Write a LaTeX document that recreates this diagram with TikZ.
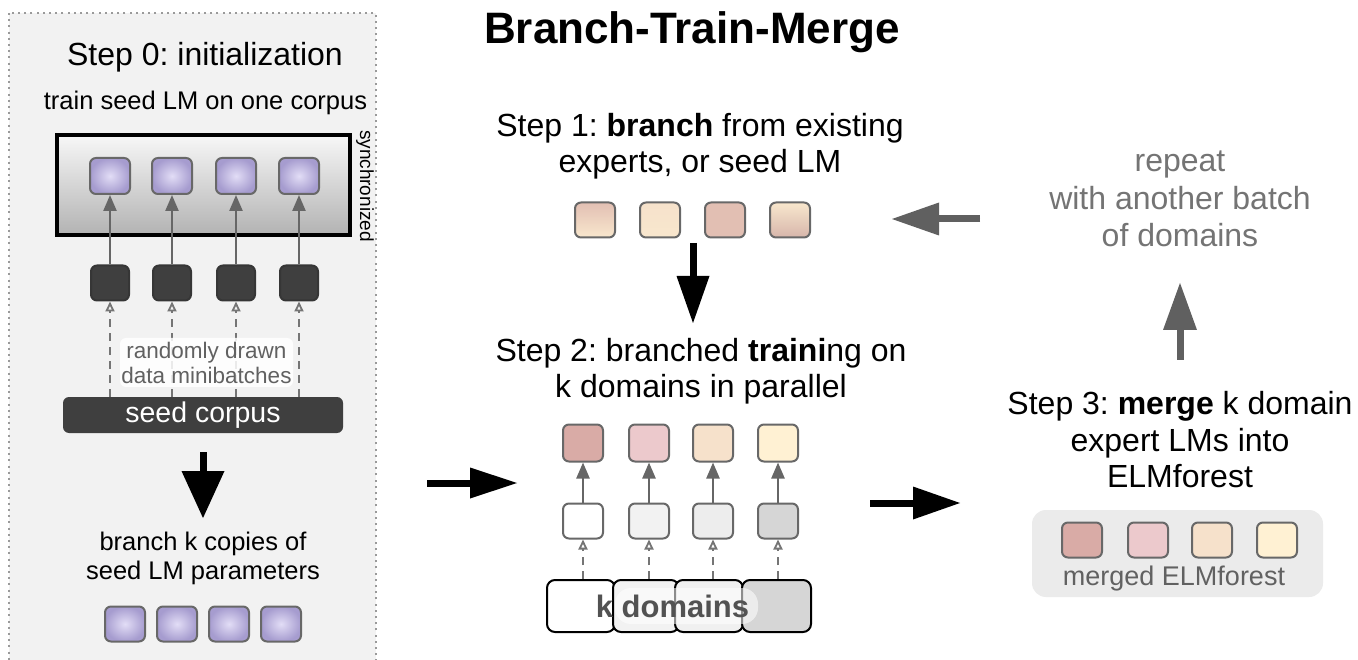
\documentclass[tikz,border=0pt]{standalone}
\usepackage{fontspec}
\setmainfont{Liberation Sans}
\usetikzlibrary{arrows.meta,calc}

\newcommand\fsz[2]{\fontsize{#1}{#2}\selectfont}

\definecolor{panel}{HTML}{F2F2F2}
\definecolor{dotgray}{HTML}{9A9A9A}
\definecolor{sqline}{HTML}{686868}
\definecolor{darkbox}{HTML}{3F3F3F}
\definecolor{arrgray}{HTML}{666666}
\definecolor{lavin}{HTML}{E2DDF6}
\definecolor{lavout}{HTML}{A69CCF}
\definecolor{rose}{HTML}{D9ABA6}
\definecolor{pinkish}{HTML}{ECC9CC}
\definecolor{peach}{HTML}{F6E1CB}
\definecolor{cream}{HTML}{FFF1D3}
\definecolor{tanA}{HTML}{E2BFB3}
\definecolor{tanB}{HTML}{F8E7CD}
\definecolor{repeatgray}{HTML}{747474}
\definecolor{bigarrgray}{HTML}{606060}

\tikzset{
  sq/.style={draw=sqline, line width=2pt, rounded corners=6pt,
             minimum width=40pt, minimum height=36pt, inner sep=0pt},
  lm/.style={sq, inner color=lavin, outer color=lavout},
  enc/.style={sq, fill=darkbox, draw=darkbox!85!black,
              minimum width=38pt, minimum height=35pt},
  upar/.style={draw=arrgray, line width=2.4pt,
               -{Triangle[length=16pt,width=13pt]}},
  dasharr/.style={draw=arrgray!90, line width=1.8pt, dash pattern=on 8pt off 6pt,
                  -{Triangle[open,length=10pt,width=9pt]}},
  bigarr/.style={line width=7pt,
                 -{Triangle[length=47pt,width=#1,line width=0pt]}},
  bigarr/.default=33pt,
  dombox/.style={draw=black, line width=2pt, rounded corners=8pt,
                 minimum height=52pt, inner sep=0pt},
  body/.style={font=\fsz{32}{36}, align=center},
}

\begin{document}
\frenchspacing
\begin{tikzpicture}[x=1pt,y=-1pt]
\useasboundingbox[fill=white] (0,0) rectangle (1358,660);

% ---------- Step 0 panel ----------
\path[fill=panel, draw=dotgray, line width=2pt, dash pattern=on 2pt off 4.2pt]
  (9,13) rectangle (376,690);

\node[font=\fsz{32}{36}, anchor=base] (s0) at (205,66) {Step 0: initialization};
\node[font=\fsz{25.5}{29}, anchor=base] (s0b) at (205.5,110) {train seed LM on one corpus};

\node[draw=black, line width=4pt, minimum width=293pt, minimum height=100pt,
      top color=white!97!black, bottom color=black!30, inner sep=0pt]
  (sync) at (203.5,185) {};
\node[rotate=-90, font=\fsz{19}{22}] (synclab) at (365,186) {synchronized};

\foreach \i/\x in {1/110,2/172,3/236,4/299}{
  \node[lm] (u\i) at (\x,176) {};
  \node[enc] (e\i) at (\x,283) {};
}
\node[fill=darkbox, rounded corners=6pt, minimum width=280pt, minimum height=36pt,
      inner sep=0pt, text=white, font=\fsz{28.5}{32}] (corpus) at (203,415) {seed corpus};

\foreach \i in {1,...,4}{
  \draw[upar] (e\i) -- (u\i);
  \draw[dasharr] (e\i |- corpus.north) -- (e\i.south);
}
\node[fill=white, fill opacity=0.85, text opacity=1, rounded corners=6pt,
      minimum width=173pt, minimum height=49pt, inner sep=0pt,
      text=black!62, font=\fsz{22.5}{25}, align=center]
  (mb) at (206.5,362.5) {randomly drawn\\data minibatches};

\coordinate (a0s) at (203,452);
\coordinate (a0e) at (203,518);
\draw[bigarr=43pt] (a0s) -- (a0e);

\node[font=\fsz{25.5}{29}, align=center] (bk) at (203,558)
  {branch k copies of\\seed LM parameters};
\foreach \i/\x in {1/125,2/177,3/229,4/281}
  \node[lm, minimum height=35pt] (c\i) at (\x,624) {};

% ---------- title ----------
\node[font=\fsz{44}{50}\bfseries, anchor=base] (title) at (692,44) {Branch-Train-Merge};

% ---------- Step 1 ----------
\node[body] (s1) at (700,146) {Step 1: \textbf{branch} from existing\\experts, or seed LM};
\node[sq, minimum height=35pt, top color=tanA, bottom color=tanB] (t1) at (595,220) {};
\node[sq, minimum height=35pt, top color=peach!90!tanB, bottom color=tanB] (t2) at (660,220) {};
\node[sq, minimum height=35pt, top color=tanA, middle color=tanB!40!white, bottom color=tanA] (t3) at (725,220) {};
\node[sq, minimum height=35pt, top color=tanB, bottom color=tanA!95!black] (t4) at (790,220) {};

\coordinate (a1s) at (693,243);
\coordinate (a1e) at (693,323);
\draw[bigarr=33pt] (a1s) -- (a1e);

% ---------- Step 2 ----------
\node[body] (s2) at (701,371) {Step 2: branched \textbf{traini}ng on\\k domains in parallel};

\coordinate (a2s) at (427,483);
\coordinate (a2e) at (517,483);
\draw[bigarr=31pt] (a2s) -- (a2e);

\foreach \i/\x/\c/\m in {1/583/rose/white, 2/649/pinkish/black!5, 3/713/peach/black!7, 4/778/cream/black!16}{
  \node[sq, minimum height=37pt, fill=\c] (r\i) at (\x,443) {};
  \node[sq, minimum height=35pt, fill=\m] (m\i) at (\x,521) {};
  \draw[upar] (m\i) -- (r\i);
}
\node[dombox, fill=white,       minimum width=68pt] (d1) at (581,606) {};
\node[dombox, fill=black!5,     minimum width=66pt] (d2) at (646,606) {};
\node[dombox, fill=black!6,     minimum width=68pt] (d3) at (709,606) {};
\node[dombox, fill=black!16,    minimum width=69pt] (d4) at (776.5,606) {};
\foreach \i in {1,...,4}
  \draw[dasharr] (m\i |- d1.north) -- (m\i.south);
\node[fill=white, fill opacity=0.55, rounded corners=16pt,
      minimum width=143pt, minimum height=36pt, inner sep=0pt] (dhl) at (686.5,606) {};
\node[font=\fsz{31}{34}\bfseries, text=black!68, anchor=base] (kd) at (672.5,617) {k domains};

% ---------- Step 3 ----------
\coordinate (a3s) at (870,503);
\coordinate (a3e) at (960,503);
\draw[bigarr=33pt] (a3s) -- (a3e);

\node[body, font=\fsz{32}{36.5}] (s3) at (1180,440)
  {Step 3: \textbf{merge} k domain\\expert LMs into\\ELMforest};
\node[fill=black!8, rounded corners=14pt, minimum width=291pt, minimum height=87pt,
      inner sep=0pt] (forest) at (1177.5,553.5) {};
\foreach \i/\x/\c in {1/1082/rose, 2/1148/pinkish, 3/1212/peach, 4/1277/cream}
  \node[sq, minimum height=35pt, fill=\c] (f\i) at (\x,540) {};
\node[font=\fsz{27}{30}, text=black!62, anchor=base] (fl) at (1174,585) {merged ELMforest};

% ---------- repeat loop ----------
\coordinate (a5s) at (1180,360);
\coordinate (a5e) at (1180,283);
\draw[bigarr=34pt, draw=bigarrgray, fill=bigarrgray] (a5s) -- (a5e);

\node[body, font=\fsz{32}{37.5}, text=repeatgray] (rep) at (1180,199)
  {repeat\\with another batch\\of domains};

\coordinate (a4s) at (980,219);
\coordinate (a4e) at (892,219);
\draw[bigarr=33pt, draw=bigarrgray, fill=bigarrgray] (a4s) -- (a4e);
\end{tikzpicture}
\end{document}
